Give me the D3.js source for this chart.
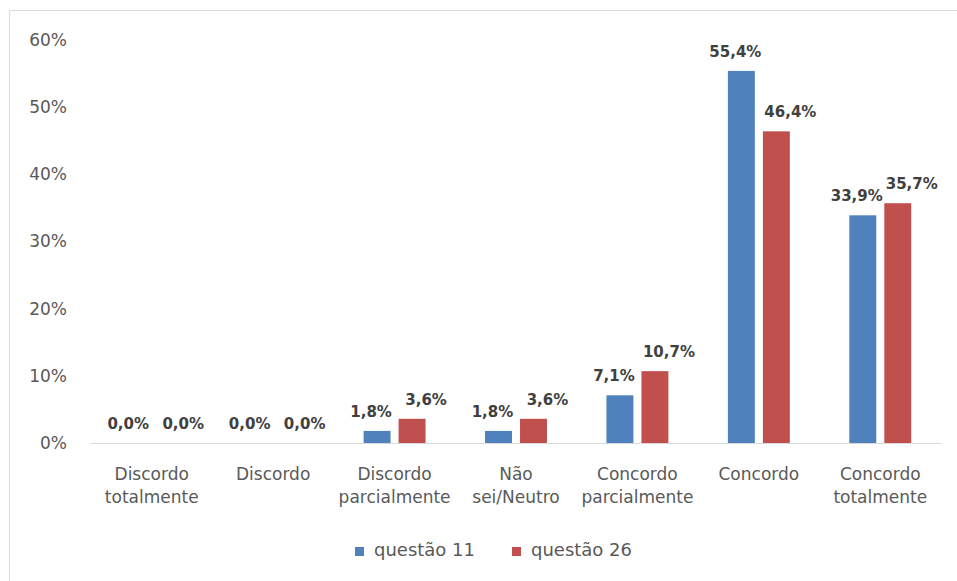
<!DOCTYPE html>
<html>
<head>
<meta charset="utf-8">
<script src="https://cdn.jsdelivr.net/npm/d3@7"></script>
<style>
  body { margin: 0; background: #fff; }
  svg { display: block; font-family: "DejaVu Sans", sans-serif; }
  .yaxis text { fill: #595959; font-size: 17px; }
  .xlabel { fill: #595959; font-size: 17px; }
  .barLabel { fill: #404040; font-size: 15px; font-weight: bold; }
  .legend text { fill: #595959; font-size: 18px; }
</style>
</head>
<body>
<div id="chart"></div>
<script>
// data
var categories = ["Discordo totalmente", "Discordo", "Discordo parcialmente", "Não sei/Neutro",
                  "Concordo parcialmente", "Concordo", "Concordo totalmente"];
var series = ["questão 11", "questão 26"];
var q11 = [0.0, 0.0, 1.8, 1.8, 7.1, 55.4, 33.9];
var q26 = [0.0, 0.0, 3.6, 3.6, 10.7, 46.4, 35.7];
var yTicks = [0, 10, 20, 30, 40, 50, 60];

var colors = ["#4f81bd", "#c0504d"];
var width = 957, height = 581;

var svg = d3.select("#chart")
    .append("svg")
        .attr("width", width)
        .attr("height", height);

// outer frame
svg.append("rect")
    .attr("x", 9.5).attr("y", 10.5)
    .attr("width", width).attr("height", height)
    .attr("fill", "none")
    .attr("stroke", "#d9d9d9");

// scales
var x0 = d3.scaleBand()
    .domain(categories)
    .range([91, 941]);

var x1 = d3.scaleBand()
    .domain(series)
    .range([0, x0.bandwidth()])
    .paddingInner(0.23)
    .paddingOuter(0.85);

var y = d3.scaleLinear()
    .domain([0, 60])
    .range([443, 40]);

// y axis, labels only
var yAxis = svg.append("g")
    .attr("class", "yaxis")
    .attr("transform", "translate(91,0)")
    .call(d3.axisLeft(y)
        .tickValues(yTicks)
        .tickSize(0)
        .tickPadding(24)
        .tickFormat(function(d) { return d + "%"; }));
yAxis.select(".domain").remove();
yAxis.selectAll("text").style("font-family", "DejaVu Sans");

// baseline
svg.append("line")
    .attr("x1", x0.range()[0]).attr("x2", x0.range()[1])
    .attr("y1", y(0) + 0.5).attr("y2", y(0) + 0.5)
    .attr("stroke", "#d9d9d9")
    .attr("stroke-width", 1);

// one row per category/series
var rows = [];
categories.forEach(function(c, i) {
    rows.push({cat: c, s: series[0], value: q11[i], k: 0});
    rows.push({cat: c, s: series[1], value: q26[i], k: 1});
});

// bars
svg.selectAll(".bar")
    .data(rows)
    .enter()
    .append("rect")
    .attr("class", "bar")
    .attr("x", function(d) { return x0(d.cat) + x1(d.s); })
    .attr("y", function(d) { return y(d.value); })
    .attr("width", x1.bandwidth())
    .attr("height", function(d) { return y(0) - y(d.value); })
    .attr("fill", function(d) { return colors[d.k]; });

// value labels (Excel nudged them a little apart)
var labelNudge = [-6, 14];
svg.selectAll(".barLabel")
    .data(rows)
    .enter()
    .append("text")
    .attr("class", "barLabel")
    .attr("text-anchor", "middle")
    .attr("x", function(d) { return x0(d.cat) + x1(d.s) + x1.bandwidth() / 2 + labelNudge[d.k]; })
    .attr("y", function(d) { return y(d.value) - 14; })
    .text(function(d) { return d.value.toFixed(1).replace(".", ",") + "%"; });

// category labels, split on the space into two lines
var xl = svg.selectAll(".xlabel")
    .data(categories)
    .enter()
    .append("text")
    .attr("class", "xlabel")
    .attr("text-anchor", "middle")
    .attr("x", function(d) { return x0(d) + x0.bandwidth() / 2; })
    .attr("y", 480);
xl.each(function(d) {
    var parts = d.split(" ");
    var t = d3.select(this);
    parts.forEach(function(p, j) {
        t.append("tspan")
            .attr("x", x0(d) + x0.bandwidth() / 2)
            .attr("y", 480 + j * 23)
            .text(p);
    });
});

// legend
var legendX = [355, 512];
var legend = svg.selectAll(".legend")
    .data(series)
    .enter()
    .append("g")
    .attr("class", "legend")
    .attr("transform", function(d, i) { return "translate(" + legendX[i] + ",547)"; });
legend.append("rect")
    .attr("width", 9).attr("height", 9)
    .attr("fill", function(d, i) { return colors[i]; });
legend.append("text")
    .attr("x", 19)
    .attr("y", 9)
    .text(function(d) { return d; });
</script>
</body>
</html>
